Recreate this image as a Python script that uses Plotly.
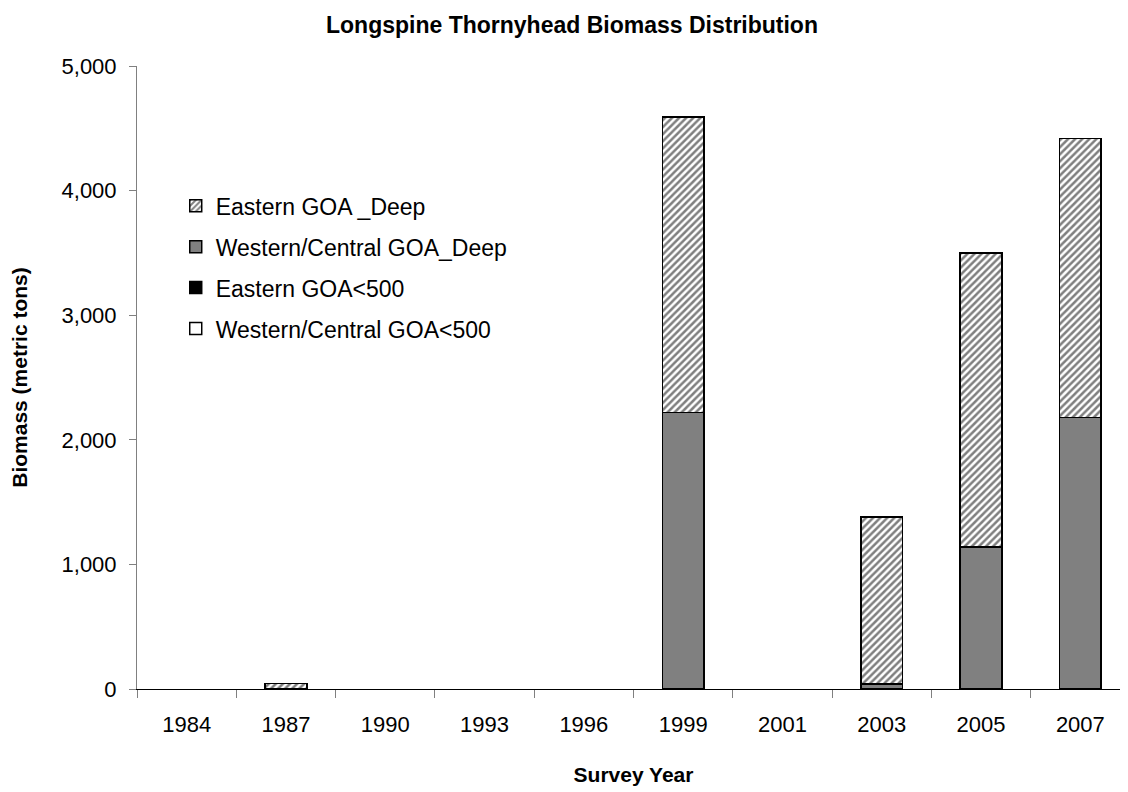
import plotly.graph_objects as go

years = ["1984", "1987", "1990", "1993", "1996", "1999", "2001", "2003", "2005", "2007"]
wc_shallow = [0, 0, 0, 0, 0, 0, 0, 0, 0, 0]
e_shallow = [0, 0, 0, 0, 0, 0, 0, 0, 0, 0]
wc_deep = [0, 0, 0, 0, 0, 2220, 0, 40, 1140, 2180]
e_deep = [0, 45, 0, 0, 0, 2370, 0, 1340, 2360, 2240]

names = ["Western/Central GOA<500", "Eastern GOA<500", "Western/Central GOA_Deep", "Eastern GOA _Deep"]
series = [wc_shallow, e_shallow, wc_deep, e_deep]
colors = ["white", "black", "#808080", "white"]

fig = go.Figure()
for i, (n, v, c) in enumerate(zip(names, series, colors)):
    marker = dict(color=c, line=dict(color="black", width=1.5))
    if i == 3:
        marker["pattern"] = dict(shape="/", fgcolor="black", bgcolor="white", size=5, solidity=0.5)
    fig.add_trace(go.Bar(x=years, y=[val if val else None for val in v], name=n,
                         marker=marker, width=0.42, legendgroup=n, legendrank=4 - i))

fig.update_layout(
    barmode="stack",
    width=1128, height=792,
    paper_bgcolor="white", plot_bgcolor="white",
    margin=dict(l=129, r=6, t=58, b=111),
    font=dict(family="Arial, Liberation Sans, sans-serif", color="black", size=22),
    title=dict(text="<b>Longspine Thornyhead Biomass Distribution</b>", x=0.5, xanchor="center",
               y=0.9785, yanchor="middle", font=dict(size=23)),
    legend=dict(x=0.039, y=0.81, xanchor="left", yanchor="top", traceorder="grouped",
                font=dict(size=23), bgcolor="rgba(0,0,0,0)",
                tracegroupgap=8),
    showlegend=True,
)
fig.update_xaxes(
    type="category", tickson="boundaries", ticks="outside", ticklen=8, tickcolor="#808080",
    showline=True, linecolor="black", linewidth=1, showgrid=False, ticklabelstandoff=16,
    title=dict(text="<b>Survey Year</b>", font=dict(size=21), standoff=30),
    tickfont=dict(size=22),
)
fig.update_yaxes(
    range=[0, 5000], dtick=1000, tickformat=",", ticks="outside", ticklen=7, tickcolor="#808080",
    showline=True, linecolor="#808080", linewidth=1, showgrid=False, zeroline=False,
    ticklabelstandoff=8,
    title=dict(text="<b>Biomass (metric tons)</b>", font=dict(size=21), standoff=28),
    tickfont=dict(size=22),
)
fig.write_html("out.html")
